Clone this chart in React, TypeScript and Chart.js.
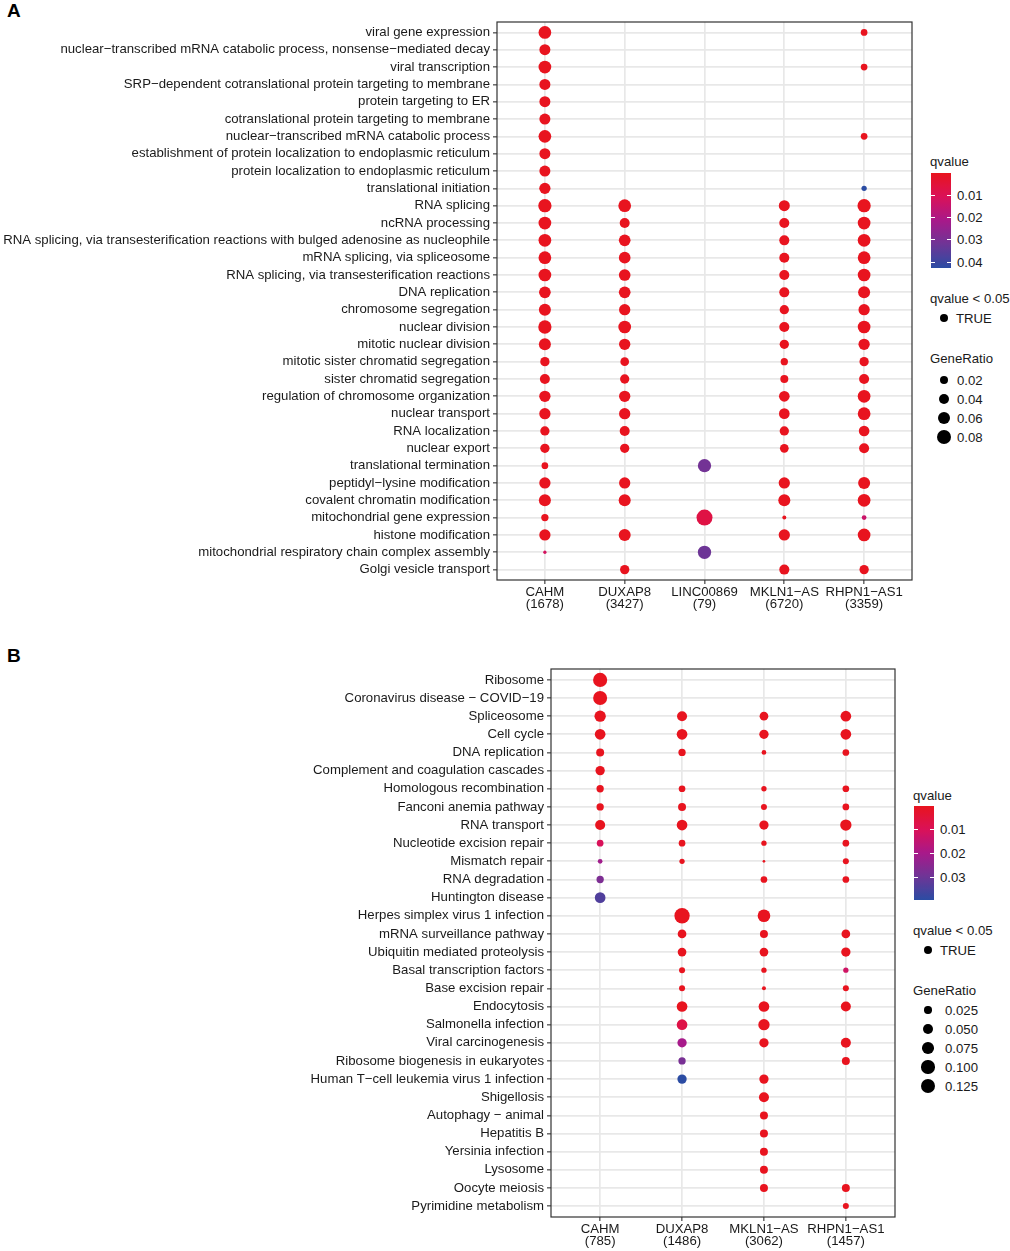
import React, { useEffect, useRef } from "react";
import { Chart, registerables } from "chart.js";

Chart.register(...registerables);

const FONT = '"Liberation Sans", Arial, Helvetica, sans-serif';
const TEXT = "#1a1a1a";
const FS = 13.2;
const LO = 0.0001;

// colour ramp stops for qvalue (low -> high)
const Q_COLOR_STOPS = ["#E8141E", "#DA1158", "#A8198A", "#6E3596", "#2B4CA3"];

// ---------------- Panel A (GO terms) ----------------
const A_TERMS = [
  "viral gene expression",
  "nuclear−transcribed mRNA catabolic process, nonsense−mediated decay",
  "viral transcription",
  "SRP−dependent cotranslational protein targeting to membrane",
  "protein targeting to ER",
  "cotranslational protein targeting to membrane",
  "nuclear−transcribed mRNA catabolic process",
  "establishment of protein localization to endoplasmic reticulum",
  "protein localization to endoplasmic reticulum",
  "translational initiation",
  "RNA splicing",
  "ncRNA processing",
  "RNA splicing, via transesterification reactions with bulged adenosine as nucleophile",
  "mRNA splicing, via spliceosome",
  "RNA splicing, via transesterification reactions",
  "DNA replication",
  "chromosome segregation",
  "nuclear division",
  "mitotic nuclear division",
  "mitotic sister chromatid segregation",
  "sister chromatid segregation",
  "regulation of chromosome organization",
  "nuclear transport",
  "RNA localization",
  "nuclear export",
  "translational termination",
  "peptidyl−lysine modification",
  "covalent chromatin modification",
  "mitochondrial gene expression",
  "histone modification",
  "mitochondrial respiratory chain complex assembly",
  "Golgi vesicle transport",
];
const A_GENES = ["CAHM", "DUXAP8", "LINC00869", "MKLN1−AS", "RHPN1−AS1"];
const A_COUNTS = [1678, 3427, 79, 6720, 3359];

const A_RATIO_CAHM = [0.058, 0.042, 0.058, 0.042, 0.042, 0.042, 0.058, 0.042, 0.042, 0.044, 0.064, 0.058, 0.058, 0.058, 0.058, 0.048, 0.051, 0.064, 0.051, 0.0285, 0.034, 0.0445, 0.0445, 0.0285, 0.0285, 0.013, 0.0445, 0.051, 0.016, 0.0445, 0.0018, null];
const A_RATIO_DUXAP8 = [null, null, null, null, null, null, null, null, null, null, 0.058, 0.034, 0.048, 0.048, 0.048, 0.048, 0.0445, 0.058, 0.0445, 0.0244, 0.0285, 0.0445, 0.0445, 0.034, 0.0285, null, 0.0445, 0.051, null, 0.051, null, 0.0285];
const A_RATIO_LINC00869 = [null, null, null, null, null, null, null, null, null, null, null, null, null, null, null, null, null, null, null, null, null, null, null, null, null, 0.064, null, null, 0.096, null, 0.064, null];
const A_RATIO_MKLN1 = [null, null, null, null, null, null, null, null, null, null, 0.042, 0.034, 0.034, 0.034, 0.034, 0.034, 0.0285, 0.034, 0.0285, 0.016, 0.02, 0.039, 0.039, 0.0285, 0.0244, null, 0.0445, 0.051, 0.0032, 0.0445, null, 0.034];
const A_RATIO_RHPN1 = [0.013, null, 0.013, null, null, null, 0.013, null, null, 0.0071, 0.064, 0.058, 0.058, 0.058, 0.058, 0.051, 0.0445, 0.058, 0.0445, 0.0285, 0.034, 0.058, 0.058, 0.039, 0.034, null, 0.051, 0.058, 0.0051, 0.058, null, 0.0285];

const A_Q_CAHM = [LO, LO, LO, LO, LO, LO, LO, LO, LO, LO, LO, LO, LO, LO, LO, LO, LO, LO, LO, LO, LO, LO, LO, LO, LO, LO, LO, LO, LO, LO, 0.012, null];
const A_Q_DUXAP8 = [null, null, null, null, null, null, null, null, null, null, LO, LO, LO, LO, LO, LO, LO, LO, LO, LO, LO, LO, LO, LO, LO, null, LO, LO, null, LO, null, LO];
const A_Q_LINC00869 = [null, null, null, null, null, null, null, null, null, null, null, null, null, null, null, null, null, null, null, null, null, null, null, null, null, 0.031, null, null, 0.007, null, 0.032, null];
const A_Q_MKLN1 = [null, null, null, null, null, null, null, null, null, null, LO, LO, LO, LO, LO, LO, LO, LO, LO, LO, LO, LO, LO, LO, LO, null, LO, LO, LO, LO, null, LO];
const A_Q_RHPN1 = [LO, null, LO, null, null, null, LO, null, null, 0.0425, LO, LO, LO, LO, LO, LO, LO, LO, LO, LO, LO, LO, LO, LO, LO, null, LO, LO, 0.014, LO, null, LO];

const A_Q_MAX = 0.0425;
const A_Q_TICKS = [0.01, 0.02, 0.03, 0.04];
const A_SIZE_BREAKS = [0.02, 0.04, 0.06, 0.08];
const A_SIZE_LABELS = ["0.02", "0.04", "0.06", "0.08"];

// ---------------- Panel B (KEGG pathways) ----------------
const B_TERMS = [
  "Ribosome",
  "Coronavirus disease − COVID−19",
  "Spliceosome",
  "Cell cycle",
  "DNA replication",
  "Complement and coagulation cascades",
  "Homologous recombination",
  "Fanconi anemia pathway",
  "RNA transport",
  "Nucleotide excision repair",
  "Mismatch repair",
  "RNA degradation",
  "Huntington disease",
  "Herpes simplex virus 1 infection",
  "mRNA surveillance pathway",
  "Ubiquitin mediated proteolysis",
  "Basal transcription factors",
  "Base excision repair",
  "Endocytosis",
  "Salmonella infection",
  "Viral carcinogenesis",
  "Ribosome biogenesis in eukaryotes",
  "Human T−cell leukemia virus 1 infection",
  "Shigellosis",
  "Autophagy − animal",
  "Hepatitis B",
  "Yersinia infection",
  "Lysosome",
  "Oocyte meiosis",
  "Pyrimidine metabolism",
];
const B_GENES = ["CAHM", "DUXAP8", "MKLN1−AS", "RHPN1−AS1"];
const B_COUNTS = [785, 1486, 3062, 1457];

const B_RATIO_CAHM = [0.115, 0.112, 0.07, 0.061, 0.031, 0.0445, 0.025, 0.025, 0.053, 0.02, 0.008, 0.025, 0.061, null, null, null, null, null, null, null, null, null, null, null, null, null, null, null, null, null];
const B_RATIO_DUXAP8 = [null, null, 0.053, 0.061, 0.025, null, 0.02, 0.031, 0.061, 0.02, 0.011, null, null, 0.137, 0.038, 0.038, 0.0153, 0.0153, 0.061, 0.061, 0.0445, 0.025, 0.0445, null, null, null, null, null, null, null];
const B_RATIO_MKLN1 = [null, null, 0.038, 0.0445, 0.008, null, 0.011, 0.0153, 0.0445, 0.011, 0.0013, 0.02, null, 0.09, 0.031, 0.038, 0.011, 0.005, 0.061, 0.07, 0.0445, null, 0.0445, 0.053, 0.031, 0.031, 0.031, 0.031, 0.031, null];
const B_RATIO_RHPN1 = [null, null, 0.061, 0.061, 0.02, null, 0.02, 0.02, 0.07, 0.02, 0.0153, 0.02, null, null, 0.038, 0.0445, 0.011, 0.0153, 0.053, null, 0.053, 0.031, null, null, null, null, null, null, 0.031, 0.0153];

const B_Q_CAHM = [LO, LO, LO, LO, LO, LO, LO, LO, LO, 0.01, 0.021, 0.027, 0.034, null, null, null, null, null, null, null, null, null, null, null, null, null, null, null, null, null];
const B_Q_DUXAP8 = [null, null, LO, LO, LO, null, LO, LO, LO, LO, LO, null, null, LO, LO, LO, LO, LO, LO, 0.007, 0.02, 0.028, 0.0395, null, null, null, null, null, null, null];
const B_Q_MKLN1 = [null, null, LO, LO, LO, null, LO, LO, LO, LO, LO, LO, null, LO, LO, LO, LO, LO, LO, LO, LO, null, LO, LO, LO, LO, LO, LO, LO, null];
const B_Q_RHPN1 = [null, null, LO, LO, LO, null, LO, LO, LO, LO, LO, LO, null, null, LO, LO, 0.012, LO, LO, null, LO, LO, null, null, null, null, null, null, LO, LO];

const B_Q_MAX = 0.0395;
const B_Q_TICKS = [0.01, 0.02, 0.03];
const B_SIZE_BREAKS = [0.025, 0.05, 0.075, 0.1, 0.125];
const B_SIZE_LABELS = ["0.025", "0.050", "0.075", "0.100", "0.125"];

// ---------------- colour & size scales ----------------
function hexToRgb(h: string) {
  const n = parseInt(h.slice(1), 16);
  return [(n >> 16) & 255, (n >> 8) & 255, n & 255];
}
const STOP_RGB = Q_COLOR_STOPS.map(hexToRgb);
function colorAt(t: number) {
  const tt = Math.max(0, Math.min(1, t));
  const seg = STOP_RGB.length - 1;
  const i = Math.min(seg - 1, Math.floor(tt * seg));
  const f = tt * seg - i;
  const a = STOP_RGB[i], b = STOP_RGB[i + 1];
  const c = a.map((v, k) => Math.round(v + (b[k] - v) * f));
  return `rgb(${c[0]},${c[1]},${c[2]})`;
}

const sizeA = (g: number) => (1.3 + 47.4 * Math.sqrt(g)) / 2;
const sizeB = (g: number) => (1.33 + 37.8 * Math.sqrt(g)) / 2;

const panelBorder = {
  id: "panelBorder",
  afterDatasetsDraw(chart: any) {
    const { ctx, chartArea: a } = chart;
    ctx.save();
    ctx.strokeStyle = "#333333";
    ctx.lineWidth = 1.2;
    ctx.strokeRect(a.left, a.top, a.right - a.left, a.bottom - a.top);
    ctx.restore();
  },
};

type PanelProps = {
  terms: string[];
  genes: string[];
  counts: number[];
  ratios: (number | null)[][];
  qvals: (number | null)[][];
  sizeFn: (g: number) => number;
  qmax: number;
  top: number;
  width: number;
  height: number;
  area: { left: number; top: number; right: number; bottom: number };
};

function DotPanel(p: PanelProps) {
  const ref = useRef<HTMLCanvasElement>(null);
  useEffect(() => {
    if (!ref.current) return;
    const datasets = p.genes.map((gene, gi) => ({
      label: gene,
      data: p.terms
        .map((_, ti) => {
          const g = p.ratios[gi][ti];
          if (g == null) return null;
          return { x: gi, y: ti, r: p.sizeFn(g), q: p.qvals[gi][ti] ?? LO };
        })
        .filter((d) => d !== null),
      backgroundColor: (ctx: any) => (ctx.raw ? colorAt(ctx.raw.q / p.qmax) : Q_COLOR_STOPS[0]),
      borderWidth: 0,
      hoverRadius: 0,
    }));
    const tickFont = { family: FONT, size: FS, lineHeight: 0.95 };
    const grid = {
      color: "#E8E8E8",
      lineWidth: 1.7,
      tickColor: "#333333",
      tickWidth: 1.1,
      tickLength: 4,
      drawTicks: true,
    };
    const chart = new Chart(ref.current, {
      type: "bubble",
      data: { datasets: datasets as any },
      options: {
        animation: false,
        responsive: false,
        events: [],
        layout: {
          padding: { left: 0, top: p.area.top, right: p.width - p.area.right, bottom: 0 },
        },
        plugins: { legend: { display: false }, tooltip: { enabled: false } },
        scales: {
          x: {
            type: "linear",
            min: -0.6,
            max: p.genes.length - 0.4,
            bounds: "data",
            afterBuildTicks: (s: any) => {
              s.ticks = p.genes.map((_, i) => ({ value: i }));
            },
            afterFit: (s: any) => {
              s.height = p.height - p.area.bottom;
            },
            ticks: {
              autoSkip: false,
              maxRotation: 0,
              padding: 2,
              color: TEXT,
              font: tickFont,
              callback: (v: any) => [p.genes[v], `(${p.counts[v]})`],
            },
            grid,
            border: { display: false },
          },
          y: {
            type: "linear",
            reverse: true,
            min: -0.6,
            max: p.terms.length - 0.4,
            bounds: "data",
            afterBuildTicks: (s: any) => {
              s.ticks = p.terms.map((_, i) => ({ value: i }));
            },
            afterFit: (s: any) => {
              s.width = p.area.left;
            },
            ticks: {
              autoSkip: false,
              padding: 3,
              color: TEXT,
              font: { family: FONT, size: FS },
              callback: (v: any) => p.terms[v],
            },
            grid,
            border: { display: false },
          },
        },
      } as any,
      plugins: [panelBorder],
    });
    return () => chart.destroy();
  }, []);
  return (
    <canvas
      ref={ref}
      width={p.width}
      height={p.height}
      style={{ position: "absolute", left: 0, top: p.top, width: p.width, height: p.height }}
    />
  );
}

function Txt({ x, y, children }: any) {
  return (
    <div
      style={{
        position: "absolute",
        left: x,
        top: y - 7.5,
        fontSize: FS,
        lineHeight: "15px",
        color: TEXT,
        whiteSpace: "nowrap",
      }}
    >
      {children}
    </div>
  );
}

function Dot({ cx, cy, r }: { cx: number; cy: number; r: number }) {
  return (
    <div
      style={{
        position: "absolute",
        left: cx - r,
        top: cy - r,
        width: 2 * r,
        height: 2 * r,
        borderRadius: "50%",
        background: "#000",
      }}
    />
  );
}

type LegendProps = {
  left: number;
  qTitleY: number;
  barTop: number;
  barBottom: number;
  qmax: number;
  qticks: number[];
  labelX: number;
  sigTitleY: number;
  trueY: number;
  dotX: number;
  trueX: number;
  grTitleY: number;
  grYs: number[];
  grBreaks: number[];
  grLabels: string[];
  grLabelX: number;
  sizeFn: (g: number) => number;
};

function Legend(L: LegendProps) {
  const stops: string[] = [];
  for (let i = 0; i <= 40; i++) stops.push(`${colorAt(i / 40)} ${(i / 40) * 100}%`);
  const barH = L.barBottom - L.barTop;
  return (
    <>
      <Txt x={L.left} y={L.qTitleY}>qvalue</Txt>
      <div
        style={{
          position: "absolute",
          left: L.left + 1,
          top: L.barTop,
          width: 20,
          height: barH,
          background: `linear-gradient(to bottom, ${stops.join(", ")})`,
        }}
      />
      {L.qticks.map((q) => {
        const y = L.barTop + (q / L.qmax) * barH;
        return (
          <React.Fragment key={q}>
            <div style={{ position: "absolute", left: L.left + 1, top: y - 0.5, width: 4, height: 1, background: "#fff" }} />
            <div style={{ position: "absolute", left: L.left + 17, top: y - 0.5, width: 4, height: 1, background: "#fff" }} />
            <Txt x={L.labelX} y={y}>{q.toFixed(2)}</Txt>
          </React.Fragment>
        );
      })}
      <Txt x={L.left} y={L.sigTitleY}>qvalue &lt; 0.05</Txt>
      <Dot cx={L.dotX} cy={L.trueY} r={4.4} />
      <Txt x={L.trueX} y={L.trueY}>TRUE</Txt>
      <Txt x={L.left} y={L.grTitleY}>GeneRatio</Txt>
      {L.grBreaks.map((g, i) => (
        <React.Fragment key={g}>
          <Dot cx={L.dotX} cy={L.grYs[i]} r={L.sizeFn(g)} />
          <Txt x={L.grLabelX} y={L.grYs[i]}>{L.grLabels[i]}</Txt>
        </React.Fragment>
      ))}
    </>
  );
}

export default function App() {
  return (
    <div
      style={{
        position: "absolute",
        left: 0,
        top: 0,
        width: 1010,
        height: 1251,
        background: "#fff",
        fontFamily: FONT,
        overflow: "hidden",
      }}
    >
      <div style={{ position: "absolute", left: 7, top: 1, fontSize: 19, lineHeight: "19px", fontWeight: "bold", color: "#000" }}>A</div>
      <div style={{ position: "absolute", left: 7, top: 646, fontSize: 19, lineHeight: "19px", fontWeight: "bold", color: "#000" }}>B</div>

      <DotPanel
        terms={A_TERMS}
        genes={A_GENES}
        counts={A_COUNTS}
        ratios={[A_RATIO_CAHM, A_RATIO_DUXAP8, A_RATIO_LINC00869, A_RATIO_MKLN1, A_RATIO_RHPN1]}
        qvals={[A_Q_CAHM, A_Q_DUXAP8, A_Q_LINC00869, A_Q_MKLN1, A_Q_RHPN1]}
        sizeFn={sizeA}
        qmax={A_Q_MAX}
        top={0}
        width={925}
        height={625}
        area={{ left: 497, top: 22, right: 912, bottom: 580 }}
      />
      <DotPanel
        terms={B_TERMS}
        genes={B_GENES}
        counts={B_COUNTS}
        ratios={[B_RATIO_CAHM, B_RATIO_DUXAP8, B_RATIO_MKLN1, B_RATIO_RHPN1]}
        qvals={[B_Q_CAHM, B_Q_DUXAP8, B_Q_MKLN1, B_Q_RHPN1]}
        sizeFn={sizeB}
        qmax={B_Q_MAX}
        top={640}
        width={905}
        height={611}
        area={{ left: 551, top: 29, right: 895, bottom: 577 }}
      />

      <Legend
        left={930}
        qTitleY={161}
        barTop={172.7}
        barBottom={268}
        qmax={A_Q_MAX}
        qticks={A_Q_TICKS}
        labelX={957}
        sigTitleY={298}
        trueY={318}
        dotX={944}
        trueX={956}
        grTitleY={358}
        grYs={[380, 399, 418, 437]}
        grBreaks={A_SIZE_BREAKS}
        grLabels={A_SIZE_LABELS}
        grLabelX={957}
        sizeFn={sizeA}
      />
      <Legend
        left={913}
        qTitleY={795}
        barTop={806}
        barBottom={900}
        qmax={B_Q_MAX}
        qticks={B_Q_TICKS}
        labelX={940}
        sigTitleY={930}
        trueY={950}
        dotX={928}
        trueX={940}
        grTitleY={990}
        grYs={[1010, 1029, 1048, 1067, 1086]}
        grBreaks={B_SIZE_BREAKS}
        grLabels={B_SIZE_LABELS}
        grLabelX={945}
        sizeFn={sizeB}
      />
    </div>
  );
}
